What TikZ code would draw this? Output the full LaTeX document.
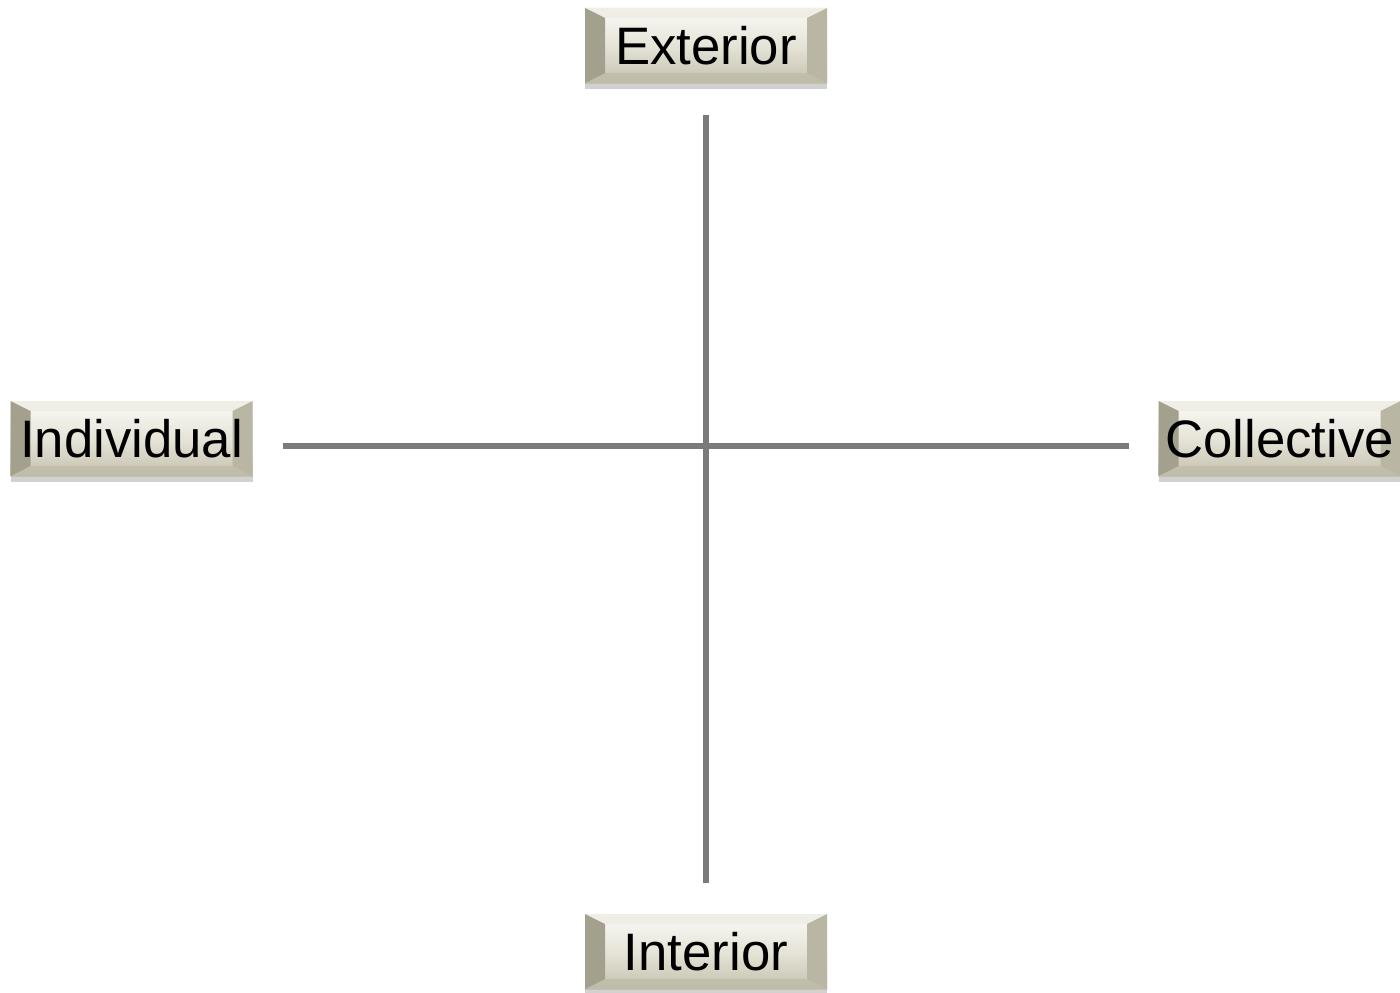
\documentclass[tikz,border=0pt]{standalone}
\usepackage{fontspec}
\setmainfont{Liberation Sans}
\usetikzlibrary{shadows}

\definecolor{tileface}{HTML}{E6E4D8}
\definecolor{tiletop}{HTML}{FAFAF6}
\definecolor{tilebot}{HTML}{C4C1AE}
\definecolor{tileleft}{HTML}{A3A08D}
\definecolor{tileright}{HTML}{B9B6A3}
\definecolor{tileupper}{HTML}{EDEBE1}
\definecolor{tilelower}{HTML}{BDBAA7}
\definecolor{axisgray}{HTML}{7A7A7A}

\tikzset{
  tilebox/.style={minimum width=2.42cm, minimum height=0.75cm, inner sep=0pt,
    font=\fontsize{15}{18}\selectfont,
    drop shadow={shadow xshift=0cm, shadow yshift=-0.06cm, opacity=0.3, fill=black!60},
    top color=tiletop, bottom color=tilebot, middle color=tileface,
    path picture={
      \coordinate (sw) at (path picture bounding box.south west);
      \coordinate (nw) at (path picture bounding box.north west);
      \coordinate (se) at (path picture bounding box.south east);
      \coordinate (ne) at (path picture bounding box.north east);
      \fill[tileupper, opacity=0.7] (nw) -- (ne) -- ([shift={(-0.2,-0.1)}]ne) -- ([shift={(0.2,-0.1)}]nw) -- cycle;
      \fill[tilelower, opacity=0.7] (sw) -- (se) -- ([shift={(-0.2,0.1)}]se) -- ([shift={(0.2,0.1)}]sw) -- cycle;
      \fill[tileleft] (sw) -- (nw) -- ([shift={(0.2,-0.1)}]nw) -- ([shift={(0.2,0.1)}]sw) -- cycle;
      \fill[tileright] (se) -- (ne) -- ([shift={(-0.2,-0.1)}]ne) -- ([shift={(-0.2,0.1)}]se) -- cycle;
    }},
  axisline/.style={draw=axisgray, line width=1.7pt}
}

\begin{document}
\begin{tikzpicture}
  \useasboundingbox (0,0) rectangle (14,9.92);

  % Quadrant labels
  \node[tilebox] (ext) at (7.06,9.465) {Exterior};
  \node[tilebox] (int) at (7.06,0.405) {Interior};
  \node[tilebox] (ind) at (1.315,5.535) {Individual};
  \node[tilebox] (col) at (12.795,5.535) {Collective};

  % Axes
  \draw[axisline, shorten <=0.31cm, shorten >=0.3cm] (ext.south) -- (int.north);
  \draw[axisline, shorten <=0.3cm, shorten >=0.29cm] ([yshift=-0.075cm]ind.east) -- ([yshift=-0.075cm]col.west);
\end{tikzpicture}
\end{document}
